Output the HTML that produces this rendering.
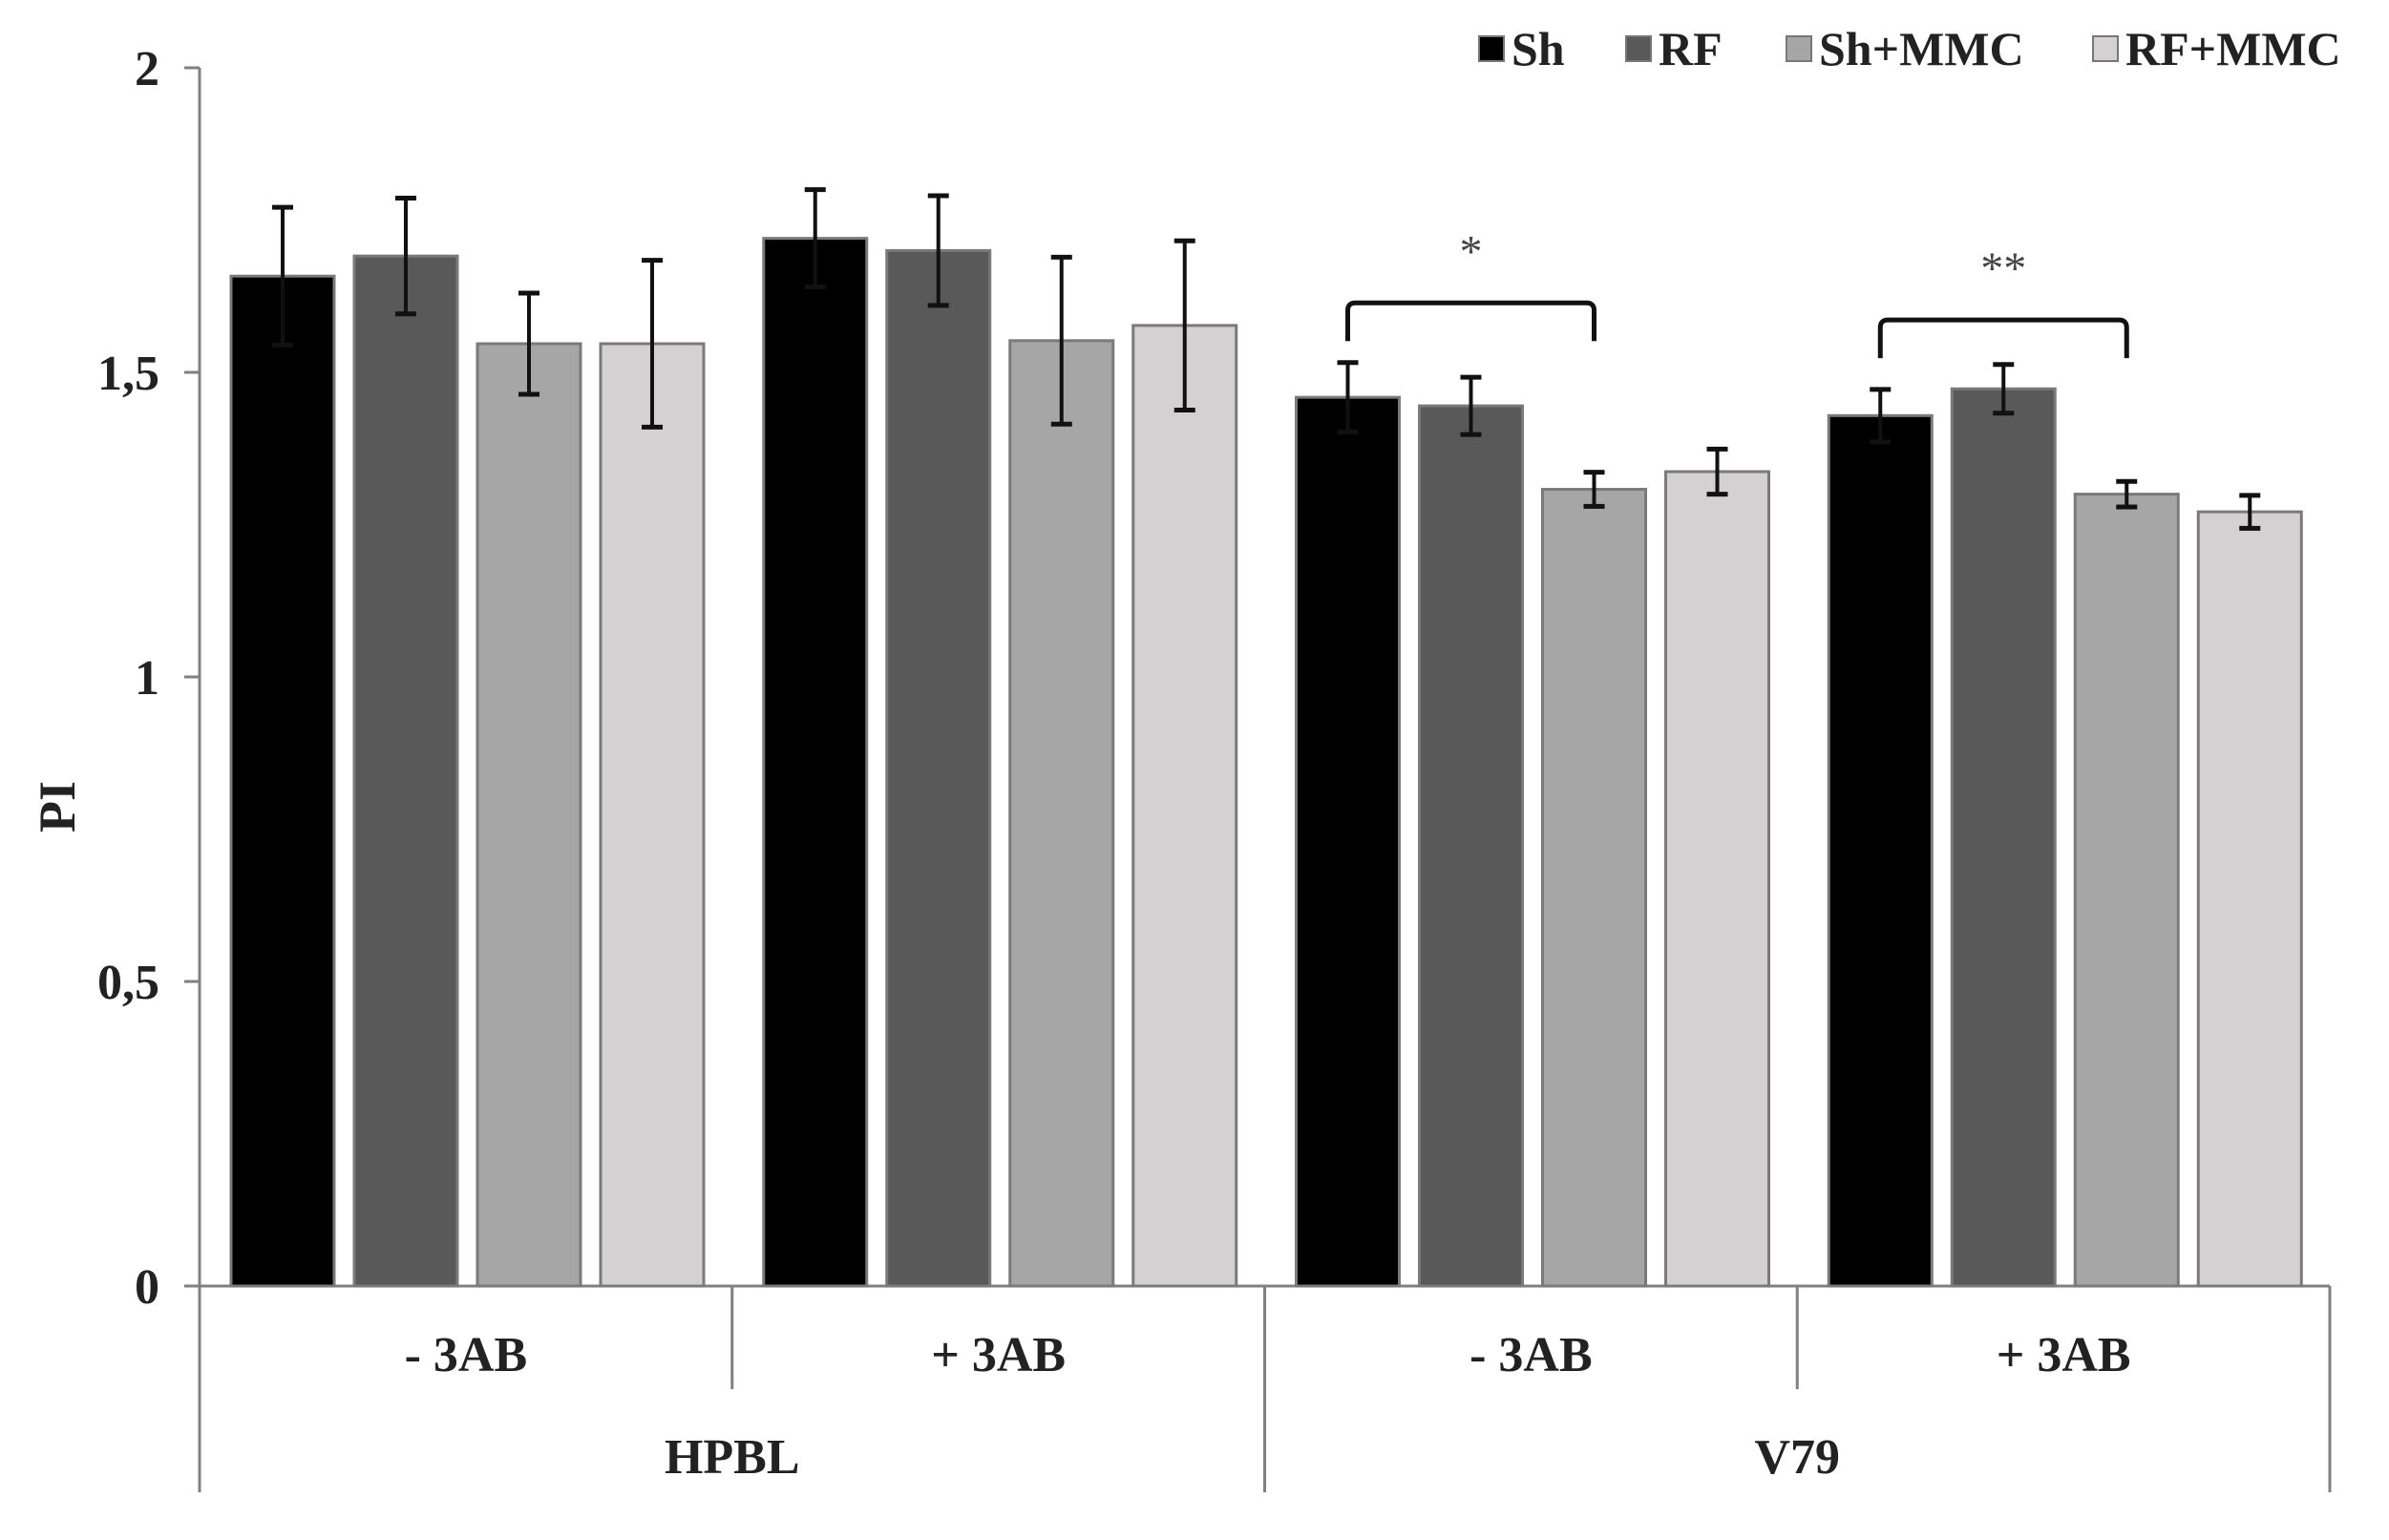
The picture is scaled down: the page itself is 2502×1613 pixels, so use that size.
<!DOCTYPE html>
<html><head><meta charset="utf-8"><style>
html,body{margin:0;padding:0;background:#fff;}
svg{display:block;font-family:"Liberation Serif",serif;font-weight:bold;}
</style></head><body>
<svg id="chart" width="2502" height="1613" viewBox="0 0 2502 1613" xmlns="http://www.w3.org/2000/svg">
<rect x="0" y="0" width="2502" height="1613" fill="#fff"/>
<g id="axes"></g>
<g id="bars"></g>
<g id="errs"></g>
<g id="sig"></g>
<g id="legend"></g>
<text x="0" y="0" transform="translate(78,845) rotate(-90)" text-anchor="middle" font-size="54" fill="#222">PI</text>
</svg>
<script>
const categories = ["- 3AB", "+ 3AB", "- 3AB", "+ 3AB"];
const groups = ["HPBL", "V79"];
const seriesNames = ["Sh", "RF", "Sh+MMC", "RF+MMC"];
const shValues = [1.658, 1.720, 1.459, 1.429];
const rfValues = [1.691, 1.700, 1.445, 1.473];
const shMmcValues = [1.547, 1.552, 1.308, 1.300];
const rfMmcValues = [1.547, 1.577, 1.337, 1.271];
const shErr = [0.113, 0.080, 0.057, 0.043];
const rfErr = [0.095, 0.090, 0.047, 0.040];
const shMmcErr = [0.083, 0.137, 0.028, 0.021];
const rfMmcErr = [0.137, 0.139, 0.037, 0.027];
const yTicks = [0, 0.5, 1, 1.5, 2];
const yTickLabels = ["0", "0,5", "1", "1,5", "2"];
const sigCategory = [2, 3];
const sigLevel = [1.614, 1.586];
const sigLabels = ["*", "**"];

const NS = "http://www.w3.org/2000/svg";
const colors = ["#000000", "#595959", "#a6a6a6", "#d3d1d2"];
const values = [shValues, rfValues, shMmcValues, rfMmcValues];
const errs = [shErr, rfErr, shMmcErr, rfMmcErr];
const X0 = 209, X1 = 2440, Y0 = 1347, Y2 = 71;
const catW = (X1 - X0) / categories.length;
const y = v => Y0 - (v / 2) * (Y0 - Y2);
const barX = (c, s) => X0 + c * catW + 33 + s * 129;
const BW = 108;
function mk(tag, attrs, parent) {
  const e = document.createElementNS(NS, tag);
  for (const k in attrs) e.setAttribute(k, attrs[k]);
  parent.appendChild(e);
  return e;
}
const axes = document.getElementById('axes');
let el = mk('line', {x1: X0, y1: Y2, x2: X0, y2: 1563, stroke: '#808080', 'stroke-width': 3}, axes);


el = mk('line', {x1: X0 - 16, y1: Y0, x2: X1, y2: Y0, stroke: '#808080', 'stroke-width': 3}, axes);


yTicks.forEach((t, i) => {
  let tk = mk('line', {x1: X0 - 16, y1: y(t), x2: X0, y2: y(t), stroke: '#808080', 'stroke-width': 3}, axes);
  
  
  let lb = mk('text', {x: 167, y: y(t) + 18, 'text-anchor': 'end', 'font-size': 52, fill: '#222'}, axes);
  lb.textContent = yTickLabels[i];
  
  
});
for (let c = 1; c <= categories.length; c++) {
  const xx = X0 + c * catW;
  const long = (c % 2 === 0);
  let d = mk('line', {x1: xx, y1: Y0, x2: xx, y2: long ? 1563 : 1455, stroke: '#808080', 'stroke-width': 3}, axes);
  
  
}
categories.forEach((c, i) => {
  let t = mk('text', {x: X0 + (i + 0.5) * catW, y: 1436, 'text-anchor': 'middle', 'font-size': 52, fill: '#222'}, axes);
  t.textContent = c;
  
  
});
groups.forEach((g, i) => {
  let t = mk('text', {x: X0 + (i * 2 + 1) * catW, y: 1543, 'text-anchor': 'middle', 'font-size': 52, fill: '#222'}, axes);
  t.textContent = g;
  
  
});
const barsG = document.getElementById('bars');
const errG = document.getElementById('errs');
values.forEach((arr, s) => {
  arr.forEach((v, c) => {
    const bx = barX(c, s);
    let r = mk('rect', {x: bx, y: y(v), width: BW, height: Y0 - y(v), fill: colors[s], stroke: '#7a7a7a', 'stroke-width': 3}, barsG);
    
    
    const cx = bx + BW / 2, e = errs[s][c];
    const top = y(v + e), bot = y(v - e);
    let eg = mk('g', {stroke: '#111', 'stroke-width': 4}, errG);
    
    
    mk('line', {x1: cx, y1: top, x2: cx, y2: bot}, eg);
    mk('line', {x1: cx - 11, y1: top, x2: cx + 11, y2: top, 'stroke-width': 5}, eg);
    mk('line', {x1: cx - 11, y1: bot, x2: cx + 11, y2: bot, 'stroke-width': 5}, eg);
  });
});
const sigG = document.getElementById('sig');
sigCategory.forEach((c, i) => {
  const xa = barX(c, 0) + BW / 2, xb = barX(c, 2) + BW / 2;
  const yy = y(sigLevel[i]);
  let p = mk('path', {d: `M${xa},${yy + 40} L${xa},${yy + 8} Q${xa},${yy} ${xa + 8},${yy} L${xb - 8},${yy} Q${xb},${yy} ${xb},${yy + 8} L${xb},${yy + 40}`, fill: 'none', stroke: '#111', 'stroke-width': 5}, sigG);
  
  
  let t = mk('text', {x: (xa + xb) / 2, y: yy - 38, 'text-anchor': 'middle', 'font-size': 48, 'font-weight': 'normal', fill: '#444'}, sigG);
  t.textContent = sigLabels[i];
  
  
});
const legG = document.getElementById('legend');
const legSq = [1549, 1703, 1871, 2192];
seriesNames.forEach((n, i) => {
  let g = mk('g', {}, legG);
  
  
  mk('rect', {x: legSq[i], y: 38, width: 26, height: 26, fill: colors[i], stroke: '#777', 'stroke-width': 2}, g);
  let t = mk('text', {x: legSq[i] + 34, y: 68, 'font-size': 50, fill: '#222'}, g);
  t.textContent = n;
});
</script>
</body></html>
